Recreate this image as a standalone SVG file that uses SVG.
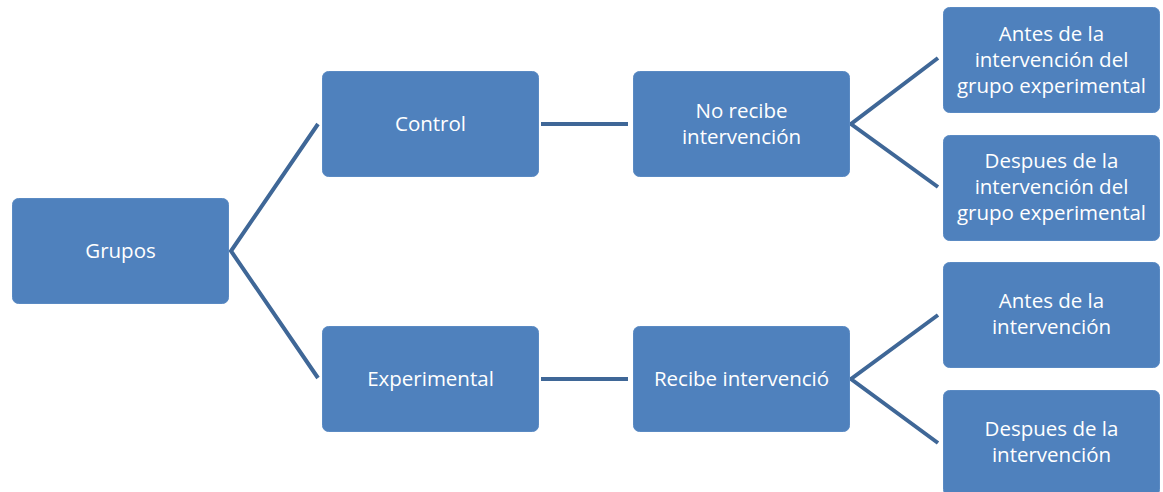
<svg xmlns="http://www.w3.org/2000/svg" width="1163" height="492" viewBox="0 0 1163 492">
<style>
.box{fill:#4f81bd;stroke:#5a8ac3;stroke-width:1}
.t{font-family:"Open Sans","Liberation Sans",sans-serif;font-size:20.5px;fill:#ffffff;text-anchor:middle}
.c{stroke:#3f6797;stroke-width:4;fill:none}
</style>
<rect width="1163" height="492" fill="#ffffff"/>
<g id="connectors">
<polyline class="c" points="318,124 231,251 318,378"/>
<line class="c" x1="541" y1="124" x2="628" y2="124"/>
<line class="c" x1="541" y1="379" x2="628" y2="379"/>
<polyline class="c" points="938,58 851,124 938,187"/>
<polyline class="c" points="938,315 851,379 938,443"/>
</g>
<g id="grupos"><rect class="box" x="12.5" y="198.5" width="216" height="105" rx="6"/><text class="t" x="120.5" y="258">Grupos</text></g>
<g id="control"><rect class="box" x="322.5" y="71.5" width="216" height="105" rx="6"/><text class="t" x="430.5" y="131">Control</text></g>
<g id="experimental"><rect class="box" x="322.5" y="326.5" width="216" height="105" rx="6"/><text class="t" x="430.5" y="386">Experimental</text></g>
<g id="norecibe"><rect class="box" x="633.5" y="71.5" width="216" height="105" rx="6"/><text class="t" x="741.5" y="118">No recibe</text><text class="t" x="741.5" y="144">intervención</text></g>
<g id="recibe"><rect class="box" x="633.5" y="326.5" width="216" height="105" rx="6"/><text class="t" x="741.5" y="386">Recibe intervenció</text></g>
<g id="antes1"><rect class="box" x="943.5" y="7.5" width="216" height="105" rx="6"/><text class="t" x="1051.5" y="41">Antes de la</text><text class="t" x="1051.5" y="67">intervención del</text><text class="t" x="1051.5" y="93">grupo experimental</text></g>
<g id="despues1"><rect class="box" x="943.5" y="135.5" width="216" height="105" rx="6"/><text class="t" x="1051.5" y="168">Despues de la</text><text class="t" x="1051.5" y="194">intervención del</text><text class="t" x="1051.5" y="220">grupo experimental</text></g>
<g id="antes2"><rect class="box" x="943.5" y="262.5" width="216" height="105" rx="6"/><text class="t" x="1051.5" y="308">Antes de la</text><text class="t" x="1051.5" y="334">intervención</text></g>
<g id="despues2"><rect class="box" x="943.5" y="390.5" width="216" height="105" rx="6"/><text class="t" x="1051.5" y="436">Despues de la</text><text class="t" x="1051.5" y="462">intervención</text></g>
</svg>
